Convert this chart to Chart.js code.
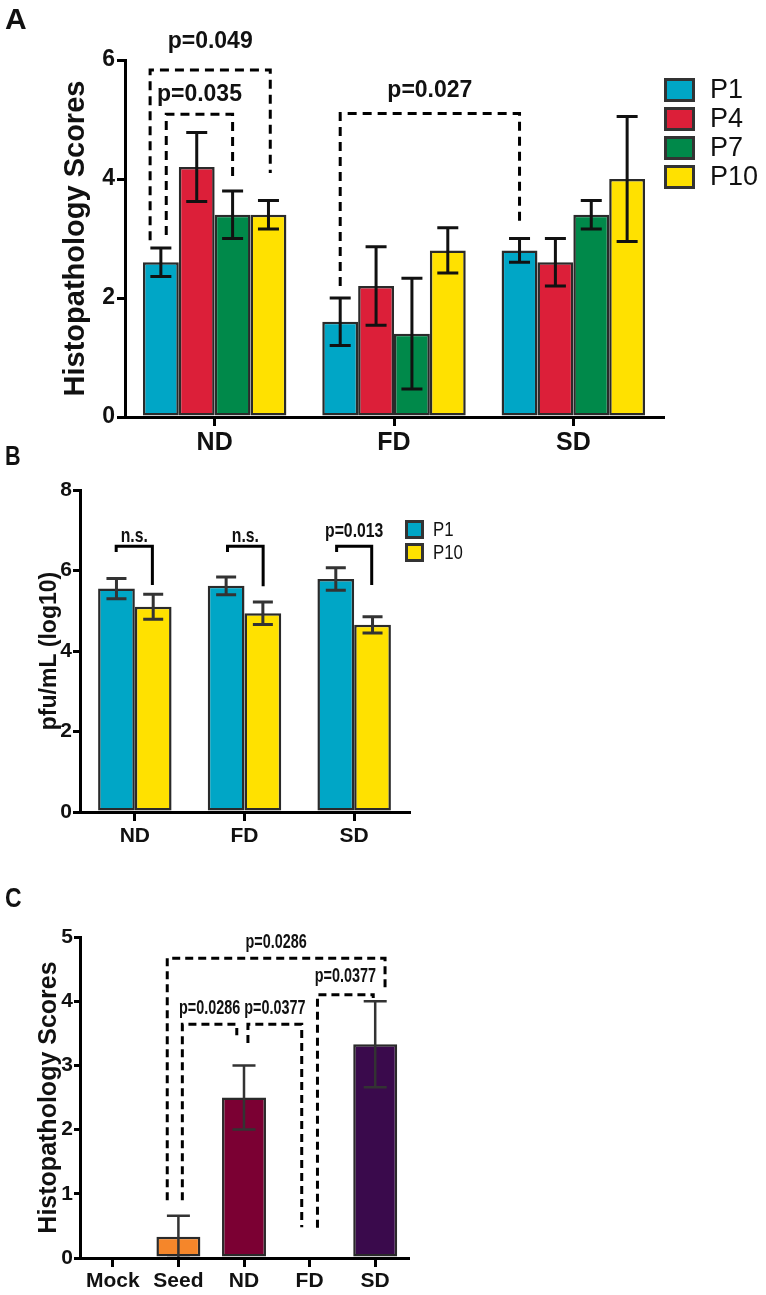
<!DOCTYPE html>
<html>
<head>
<meta charset="utf-8">
<script src="https://cdn.jsdelivr.net/npm/chart.js@4.4.1/dist/chart.umd.min.js"></script>
<style>
  html, body { margin: 0; padding: 0; background: #fff; }
  body { width: 766px; height: 1295px; position: relative; overflow: hidden; }
  canvas { position: absolute; left: 0; }
  .panel { position: absolute; left: 5px; color: #111; font-family: 'Liberation Sans', Arial, sans-serif; font-weight: bold; transform-origin: 0 0; }
</style>
</head>
<body>
<canvas id="chart-a" width="766" height="456" style="top:0"></canvas>
<canvas id="chart-b" width="766" height="404" style="top:456px"></canvas>
<canvas id="chart-c" width="766" height="435" style="top:860px"></canvas>
<div class="panel" style="top:4px;font-size:30px;line-height:30px">A</div>
<div class="panel" style="top:443px;font-size:27px;line-height:27px;transform:scaleX(0.8)">B</div>
<div class="panel" style="top:884px;font-size:28px;line-height:28px;transform:scaleX(0.82)">C</div>
<script>
// ---- panel A: histopathology by passage ----
const groupsA = ['ND', 'FD', 'SD']
const seriesA = ['P1', 'P4', 'P7', 'P10']
const p1A = [2.6, 1.6, 2.8]
const p1A_err = [0.24, 0.4, 0.2]
const p4A = [4.2, 2.2, 2.6]
const p4A_err = [0.58, 0.66, 0.4]
const p7A = [3.4, 1.4, 3.4]
const p7A_err = [0.4, 0.93, 0.24]
const p10A = [3.4, 2.8, 4.0]
const p10A_err = [0.24, 0.38, 1.05]
const ticksA = [0, 2, 4, 6]
// brackets: x in category units, y in score units
const bracketsA = [
  { label: 'p=0.049', x1: -0.36, x2: 0.31, top: 5.83, y1: 2.97, y2: 4.1, labelY: 6.3 },
  { label: 'p=0.035', x1: -0.27, x2: 0.10, top: 5.09, y1: 3.06, y2: 3.98, labelY: 5.41 },
  { label: 'p=0.027', x1: 0.70, x2: 1.70, top: 5.1, y1: 2.2, y2: 3.3, labelY: 5.48 },
]

// ---- panel B: titres ----
const groupsB = ['ND', 'FD', 'SD']
const seriesB = ['P1', 'P10']
const p1B = [5.55, 5.62, 5.79]
const p1B_err = [0.25, 0.22, 0.28]
const p10B = [5.1, 4.94, 4.65]
const p10B_err = [0.31, 0.28, 0.2]
const ticksB = [0, 2, 4, 6, 8]
const bracketsB = [
  { label: 'n.s.', x1: -0.17, x2: 0.16, top: 6.6, y1: 6.46, y2: 5.64, labelY: 6.85 },
  { label: 'n.s.', x1: 0.845, x2: 1.17, top: 6.6, y1: 6.46, y2: 5.61, labelY: 6.85 },
  { label: 'p=0.013', x1: 1.84, x2: 2.16, top: 6.6, y1: 6.46, y2: 5.64, labelY: 6.98 },
]

// ---- panel C: histopathology by group ----
const groupsC = ['Mock', 'Seed', 'ND', 'FD', 'SD']
const scoresC = [0, 0.33, 2.5, 0, 3.33]
const scoresC_err = [0, 0.33, 0.5, 0, 0.67]
const ticksC = [0, 1, 2, 3, 4, 5]
const bracketsC = [
  { label: 'p=0.0286', x1: 0.83, x2: 4.15, top: 4.67, y1: 0.9, y2: 4.17, labelY: 4.92 },
  { label: 'p=0.0377', x1: 3.12, x2: 3.97, top: 4.1, y1: 0.47, y2: 4.05, labelY: 4.38 },
  { label: 'p=0.0286', x1: 1.06, x2: 1.89, top: 3.64, y1: 0.9, y2: 3.47, labelY: 3.89 },
  { label: 'p=0.0377', x1: 2.06, x2: 2.88, top: 3.64, y1: 3.35, y2: 0.48, labelY: 3.89 },
]

const TEAL = '#00A6C6'
const RED = '#DC1F39'
const GREEN = '#00894A'
const YELLOW = '#FFE100'
const barColorsC = ['#ffffff', '#F5862A', '#7B0033', '#ffffff', '#3A0A4C']

const SANS = "'Liberation Sans', Arial, sans-serif"

Chart.defaults.animation = false
Chart.defaults.color = '#111'
Chart.defaults.font.family = SANS

// 가로로 좁힌 텍스트
function squeezedText(ctx, text, x, y, sx) {
  ctx.save()
  ctx.translate(x, y)
  ctx.scale(sx, 1)
  ctx.fillText(text, 0, 0)
  ctx.restore()
}

// 오차 막대
const errorBars = {
  id: 'errorBars',
  afterDatasetsDraw(chart, args, o) {
    const { ctx } = chart
    const y = chart.scales.y
    ctx.save()
    ctx.strokeStyle = o.color
    ctx.lineWidth = o.width
    chart.data.datasets.forEach((ds, i) => {
      if (!ds.errors) return
      chart.getDatasetMeta(i).data.forEach((bar, j) => {
        const v = ds.data[j], e = ds.errors[j]
        if (!e) return
        const top = y.getPixelForValue(v + e)
        const bot = y.getPixelForValue(v - e)
        const h = o.cap / 2
        ctx.beginPath()
        ctx.moveTo(bar.x, top); ctx.lineTo(bar.x, bot)
        ctx.moveTo(bar.x - h, top); ctx.lineTo(bar.x + h, top)
        ctx.moveTo(bar.x - h, bot); ctx.lineTo(bar.x + h, bot)
        ctx.stroke()
      })
    })
    ctx.restore()
  }
}

// 유의성 브래킷
const brackets = {
  id: 'brackets',
  afterDatasetsDraw(chart, args, o) {
    const { ctx } = chart
    const x = chart.scales.x, y = chart.scales.y
    ctx.save()
    ctx.lineWidth = o.width
    ctx.strokeStyle = '#000'
    ctx.fillStyle = '#111'
    ctx.setLineDash(o.dash || [])
    ctx.font = o.font
    ctx.textAlign = 'center'
    ctx.textBaseline = 'middle'
    for (const b of o.items) {
      const x1 = x.getPixelForValue(b.x1), x2 = x.getPixelForValue(b.x2)
      const yt = y.getPixelForValue(b.top)
      ctx.beginPath()
      ctx.moveTo(x1, y.getPixelForValue(b.y1))
      ctx.lineTo(x1, yt)
      ctx.lineTo(x2, yt)
      ctx.lineTo(x2, y.getPixelForValue(b.y2))
      ctx.stroke()
      squeezedText(ctx, b.label, (x1 + x2) / 2, y.getPixelForValue(b.labelY), o.squeeze || 1)
    }
    ctx.restore()
  }
}

// 범례 (상자 + 라벨)
const boxLegend = {
  id: 'boxLegend',
  afterDraw(chart, args, o) {
    if (!o.show) return
    const { ctx } = chart
    ctx.save()
    ctx.font = o.font
    ctx.textBaseline = 'middle'
    chart.data.datasets.forEach((ds, i) => {
      const top = o.y + i * o.step
      ctx.fillStyle = ds.backgroundColor
      ctx.fillRect(o.x, top, o.w, o.h)
      ctx.lineWidth = o.border
      ctx.strokeStyle = '#333'
      ctx.strokeRect(o.x + o.border / 2, top + o.border / 2, o.w - o.border, o.h - o.border)
      ctx.fillStyle = '#111'
      squeezedText(ctx, ds.label, o.x + o.w + o.gap, top + o.h / 2 + 1, o.squeeze || 1)
    })
    ctx.restore()
  }
}

function yScale(o) {
  return {
    min: 0, max: o.ticks[o.ticks.length - 1],
    afterBuildTicks: s => { s.ticks = o.ticks.map(v => ({ value: v })) },
    afterFit: s => { s.width = o.width },
    border: { display: true, color: '#000', width: 3 },
    grid: { drawOnChartArea: false, drawTicks: true, tickLength: o.tickLen, color: '#000', lineWidth: 3 },
    ticks: { color: '#111', padding: o.pad, font: o.tickFont },
    title: { display: true, text: o.title, color: '#111', font: o.titleFont, padding: { top: o.titlePad, bottom: 0 } }
  }
}

function xScale(o) {
  return {
    offset: true,
    afterFit: s => { s.height = o.height },
    border: { display: true, color: '#000', width: 3, z: 1 },
    grid: { offset: false, drawOnChartArea: false, drawTicks: true, tickLength: 9, color: '#000', lineWidth: 3 },
    ticks: { color: '#111', padding: o.pad, font: o.font, maxRotation: 0, autoSkip: false }
  }
}

function bar(label, data, errors, color, bw) {
  return { label, data, errors, backgroundColor: color, borderColor: '#2a2a2a', borderWidth: bw, borderSkipped: false }
}

// A
new Chart(document.getElementById('chart-a'), {
  type: 'bar',
  data: {
    labels: groupsA,
    datasets: [
      bar(seriesA[0], p1A, p1A_err, TEAL, 2.5),
      bar(seriesA[1], p4A, p4A_err, RED, 2.5),
      bar(seriesA[2], p7A, p7A_err, GREEN, 2.5),
      bar(seriesA[3], p10A, p10A_err, YELLOW, 2.5),
    ]
  },
  options: {
    responsive: false,
    layout: { padding: { top: 60, right: 103, left: 0, bottom: 0 } },
    datasets: { bar: { categoryPercentage: 0.8, barPercentage: 1.0 } },
    plugins: {
      legend: { display: false },
      tooltip: { enabled: false },
      errorBars: { color: '#111', width: 3, cap: 21 },
      brackets: { width: 3, dash: [9, 6], font: `bold 23px ${SANS}`, items: bracketsA },
      boxLegend: { show: true, x: 664, y: 78, w: 31, h: 24, step: 29, border: 3, gap: 15, font: `27px ${SANS}` }
    },
    scales: {
      x: xScale({ height: 39, pad: 2, font: { size: 25, weight: 'bold' } }),
      y: yScale({ ticks: ticksA, width: 125, tickLen: 8, pad: 2, tickFont: { size: 23, weight: 'bold' },
        title: 'Histopathology Scores', titleFont: { size: 29, weight: 'bold' }, titlePad: 59 })
    }
  },
  plugins: [errorBars, brackets, boxLegend]
})

// B
new Chart(document.getElementById('chart-b'), {
  type: 'bar',
  data: {
    labels: groupsB,
    datasets: [
      bar(seriesB[0], p1B, p1B_err, TEAL, 2.5),
      bar(seriesB[1], p10B, p10B_err, YELLOW, 2.5),
    ]
  },
  options: {
    responsive: false,
    layout: { padding: { top: 34, right: 357, left: 0, bottom: 0 } },
    datasets: { bar: { categoryPercentage: 0.67, barPercentage: 1.0 } },
    plugins: {
      legend: { display: false },
      tooltip: { enabled: false },
      errorBars: { color: '#333', width: 3, cap: 20 },
      brackets: { width: 3, dash: [], font: `bold 21px ${SANS}`, squeeze: 0.75, items: bracketsB },
      boxLegend: { show: true, x: 405, y: 64, w: 19, h: 19, step: 23, border: 3, gap: 9, squeeze: 0.8, font: `21px ${SANS}` }
    },
    scales: {
      x: xScale({ height: 48, pad: 3, font: { size: 21, weight: 'bold' } }),
      y: yScale({ ticks: ticksB, width: 80, tickLen: 7, pad: 1, tickFont: { size: 21, weight: 'bold' },
        title: 'pfu/mL (log10)', titleFont: { size: 23, weight: 'bold' }, titlePad: 36 })
    }
  },
  plugins: [errorBars, brackets, boxLegend]
})

// C
new Chart(document.getElementById('chart-c'), {
  type: 'bar',
  data: {
    labels: groupsC,
    datasets: [{
      label: 'Score',
      data: scoresC,
      errors: scoresC_err,
      backgroundColor: barColorsC,
      borderColor: '#2a2a2a',
      borderWidth: c => (c.raw ? 2.5 : 0),
      borderSkipped: false
    }]
  },
  options: {
    responsive: false,
    layout: { padding: { top: 77, right: 358, left: 0, bottom: 0 } },
    datasets: { bar: { categoryPercentage: 0.67, barPercentage: 1.0 } },
    plugins: {
      legend: { display: false },
      tooltip: { enabled: false },
      errorBars: { color: '#333', width: 2.5, cap: 23 },
      brackets: { width: 3, dash: [8, 5], font: `bold 20px ${SANS}`, squeeze: 0.72, items: bracketsC },
      boxLegend: { show: false }
    },
    scales: {
      x: xScale({ height: 37, pad: 2, font: { size: 21, weight: 'bold' } }),
      y: yScale({ ticks: ticksC, width: 80, tickLen: 6, pad: 1, tickFont: { size: 21, weight: 'bold' },
        title: 'Histopathology Scores', titleFont: { size: 25, weight: 'bold' }, titlePad: 34 })
    }
  },
  plugins: [errorBars, brackets, boxLegend]
})
</script>
</body>
</html>
